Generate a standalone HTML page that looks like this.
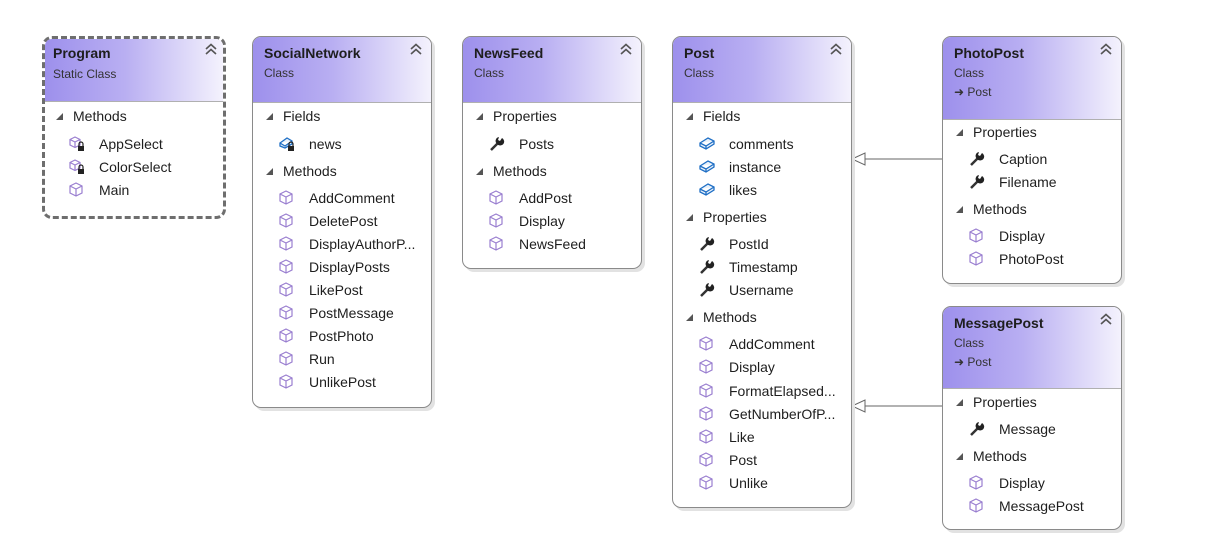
<!DOCTYPE html>
<html><head><meta charset="utf-8"><style>
body{margin:0;width:1210px;height:542px;background:#fff;position:relative;overflow:hidden;font-family:"Liberation Sans",sans-serif;color:#1e1e1e}
.b{position:absolute;border:1px solid #8a8a8a;border-radius:9px;background:#fff;box-shadow:3px 3px 0 #e2e2e2;overflow:hidden}
.h{position:absolute;left:0;right:0;top:0;background:linear-gradient(90deg,#9d90ec 0%,#b9aff2 45%,#f4f2fd 100%);border-bottom:1px solid #b0b0b0}
.t{position:absolute;left:11px;font-weight:bold;font-size:14px;line-height:18px}
.c{position:absolute;left:11px;font-size:12px;line-height:16px;color:#333}
.x{position:absolute;right:9px;top:6px;width:12px;height:12px}
.s,.i{position:absolute;font-size:14px;line-height:18px;white-space:nowrap}
.s span{position:absolute;left:-17px;top:6px;width:0;height:0;border-left:7px solid transparent;border-bottom:7px solid #555}
.i svg{position:absolute;left:-31px;top:0}
</style></head><body>

<svg width="1210" height="542" style="position:absolute;left:0;top:0">
<line x1="865" y1="159" x2="942" y2="159" stroke="#666" stroke-width="1"/>
<polygon points="852,159 865,153 865,165" fill="#fff" stroke="#666"/>
<line x1="865" y1="406" x2="942" y2="406" stroke="#666" stroke-width="1"/>
<polygon points="852,406 865,400 865,412" fill="#fff" stroke="#666"/>
</svg>

<svg width="0" height="0" style="position:absolute">
<defs>
<g id="m"><path d="M8 2 L14 5 L14 12 L8 15 L2 12 L2 5 Z M2 5 L8 8 L14 5 M8 8 L8 15" fill="none" stroke="#9a7fd0" stroke-width="1.2"/></g>
<g id="mp"><path d="M7 2 L12 4.5 L12 10 L7 12.5 L2 10 L2 4.5 Z M2 4.5 L7 7 L12 4.5 M7 7 L7 12.5" fill="none" stroke="#9a7fd0" stroke-width="1.2"/><rect x="10" y="11" width="6" height="5" fill="#222"/><path d="M11 11 V9 a2 2 0 0 1 4 0 V11" fill="none" stroke="#222" stroke-width="1.2"/></g>
<g id="f"><path d="M2 8 L10 3 L16 6 L16 9 L8 14 L2 11 Z M2 8 L8 11 L16 6 M8 11 L8 14" fill="#e8f1fb" stroke="#1f6fc5" stroke-width="1.3"/></g>
<g id="fp"><path d="M2 8 L9 3 L14 6 L14 9 L7 13 L2 11 Z M2 8 L7 11 L14 6" fill="#e8f1fb" stroke="#1f6fc5" stroke-width="1.3"/><rect x="10" y="11" width="6" height="5" fill="#222"/><path d="M11 11 V9 a2 2 0 0 1 4 0 V11" fill="none" stroke="#222" stroke-width="1.2"/></g>
<g id="w"><path d="M3 15 L10 8" stroke="#333" stroke-width="2.5"/><path d="M9 9 a4 4 0 1 0 5 -6 l-2 3 l-2 -1 l1 -3 a4 4 0 0 0 -2 7" fill="#222"/></g>
<g id="ch"><path d="M1 6 L6 1.5 L11 6 M1 11 L6 6.5 L11 11" fill="none" stroke="#555" stroke-width="1.6"/></g>
</defs></svg>

<!-- Program -->
<div class="b" style="left:42px;top:36px;width:178px;height:177px;border:3px dashed #6e6e6e;border-radius:10px;box-shadow:none">
<div class="h" style="height:62px"><div class="t" style="top:5px;left:8px">Program</div><div class="c" style="top:27px;left:8px">Static Class</div><svg class="x" style="right:6px;top:4px"><use href="#ch"/></svg></div>
</div>
<div class="s" style="left:73px;top:107px"><span></span>Methods</div>
<div class="i" style="left:99px;top:135px"><svg width="18" height="18"><use href="#mp"/></svg>AppSelect</div>
<div class="i" style="left:99px;top:158px"><svg width="18" height="18"><use href="#mp"/></svg>ColorSelect</div>
<div class="i" style="left:99px;top:181px"><svg width="18" height="18"><use href="#m"/></svg>Main</div>

<!-- SocialNetwork -->
<div class="b" style="left:252px;top:36px;width:178px;height:370px">
<div class="h" style="height:65px"><div class="t" style="top:7px">SocialNetwork</div><div class="c" style="top:28px">Class</div><svg class="x"><use href="#ch"/></svg></div>
</div>
<div class="s" style="left:283px;top:107px"><span></span>Fields</div>
<div class="i" style="left:309px;top:135px"><svg width="18" height="18"><use href="#fp"/></svg>news</div>
<div class="s" style="left:283px;top:162px"><span></span>Methods</div>
<div class="i" style="left:309px;top:189px"><svg width="18" height="18"><use href="#m"/></svg>AddComment</div>
<div class="i" style="left:309px;top:212px"><svg width="18" height="18"><use href="#m"/></svg>DeletePost</div>
<div class="i" style="left:309px;top:235px"><svg width="18" height="18"><use href="#m"/></svg>DisplayAuthorP...</div>
<div class="i" style="left:309px;top:258px"><svg width="18" height="18"><use href="#m"/></svg>DisplayPosts</div>
<div class="i" style="left:309px;top:281px"><svg width="18" height="18"><use href="#m"/></svg>LikePost</div>
<div class="i" style="left:309px;top:304px"><svg width="18" height="18"><use href="#m"/></svg>PostMessage</div>
<div class="i" style="left:309px;top:327px"><svg width="18" height="18"><use href="#m"/></svg>PostPhoto</div>
<div class="i" style="left:309px;top:350px"><svg width="18" height="18"><use href="#m"/></svg>Run</div>
<div class="i" style="left:309px;top:373px"><svg width="18" height="18"><use href="#m"/></svg>UnlikePost</div>

<!-- NewsFeed -->
<div class="b" style="left:462px;top:36px;width:178px;height:231px">
<div class="h" style="height:65px"><div class="t" style="top:7px">NewsFeed</div><div class="c" style="top:28px">Class</div><svg class="x"><use href="#ch"/></svg></div>
</div>
<div class="s" style="left:493px;top:107px"><span></span>Properties</div>
<div class="i" style="left:519px;top:135px"><svg width="18" height="18"><use href="#w"/></svg>Posts</div>
<div class="s" style="left:493px;top:162px"><span></span>Methods</div>
<div class="i" style="left:519px;top:189px"><svg width="18" height="18"><use href="#m"/></svg>AddPost</div>
<div class="i" style="left:519px;top:212px"><svg width="18" height="18"><use href="#m"/></svg>Display</div>
<div class="i" style="left:519px;top:235px"><svg width="18" height="18"><use href="#m"/></svg>NewsFeed</div>

<!-- Post -->
<div class="b" style="left:672px;top:36px;width:178px;height:470px">
<div class="h" style="height:65px"><div class="t" style="top:7px">Post</div><div class="c" style="top:28px">Class</div><svg class="x"><use href="#ch"/></svg></div>
</div>
<div class="s" style="left:703px;top:107px"><span></span>Fields</div>
<div class="i" style="left:729px;top:135px"><svg width="18" height="18"><use href="#f"/></svg>comments</div>
<div class="i" style="left:729px;top:158px"><svg width="18" height="18"><use href="#f"/></svg>instance</div>
<div class="i" style="left:729px;top:181px"><svg width="18" height="18"><use href="#f"/></svg>likes</div>
<div class="s" style="left:703px;top:208px"><span></span>Properties</div>
<div class="i" style="left:729px;top:235px"><svg width="18" height="18"><use href="#w"/></svg>PostId</div>
<div class="i" style="left:729px;top:258px"><svg width="18" height="18"><use href="#w"/></svg>Timestamp</div>
<div class="i" style="left:729px;top:281px"><svg width="18" height="18"><use href="#w"/></svg>Username</div>
<div class="s" style="left:703px;top:308px"><span></span>Methods</div>
<div class="i" style="left:729px;top:335px"><svg width="18" height="18"><use href="#m"/></svg>AddComment</div>
<div class="i" style="left:729px;top:358px"><svg width="18" height="18"><use href="#m"/></svg>Display</div>
<div class="i" style="left:729px;top:382px"><svg width="18" height="18"><use href="#m"/></svg>FormatElapsed...</div>
<div class="i" style="left:729px;top:405px"><svg width="18" height="18"><use href="#m"/></svg>GetNumberOfP...</div>
<div class="i" style="left:729px;top:428px"><svg width="18" height="18"><use href="#m"/></svg>Like</div>
<div class="i" style="left:729px;top:451px"><svg width="18" height="18"><use href="#m"/></svg>Post</div>
<div class="i" style="left:729px;top:474px"><svg width="18" height="18"><use href="#m"/></svg>Unlike</div>

<!-- PhotoPost -->
<div class="b" style="left:942px;top:36px;width:178px;height:246px">
<div class="h" style="height:82px"><div class="t" style="top:7px">PhotoPost</div><div class="c" style="top:28px">Class</div><div class="c" style="top:47px">&#10140; Post</div><svg class="x"><use href="#ch"/></svg></div>
</div>
<div class="s" style="left:973px;top:123px"><span></span>Properties</div>
<div class="i" style="left:999px;top:150px"><svg width="18" height="18"><use href="#w"/></svg>Caption</div>
<div class="i" style="left:999px;top:173px"><svg width="18" height="18"><use href="#w"/></svg>Filename</div>
<div class="s" style="left:973px;top:200px"><span></span>Methods</div>
<div class="i" style="left:999px;top:227px"><svg width="18" height="18"><use href="#m"/></svg>Display</div>
<div class="i" style="left:999px;top:250px"><svg width="18" height="18"><use href="#m"/></svg>PhotoPost</div>

<!-- MessagePost -->
<div class="b" style="left:942px;top:306px;width:178px;height:222px">
<div class="h" style="height:81px"><div class="t" style="top:7px">MessagePost</div><div class="c" style="top:28px">Class</div><div class="c" style="top:47px">&#10140; Post</div><svg class="x"><use href="#ch"/></svg></div>
</div>
<div class="s" style="left:973px;top:393px"><span></span>Properties</div>
<div class="i" style="left:999px;top:420px"><svg width="18" height="18"><use href="#w"/></svg>Message</div>
<div class="s" style="left:973px;top:447px"><span></span>Methods</div>
<div class="i" style="left:999px;top:474px"><svg width="18" height="18"><use href="#m"/></svg>Display</div>
<div class="i" style="left:999px;top:497px"><svg width="18" height="18"><use href="#m"/></svg>MessagePost</div>

</body></html>
